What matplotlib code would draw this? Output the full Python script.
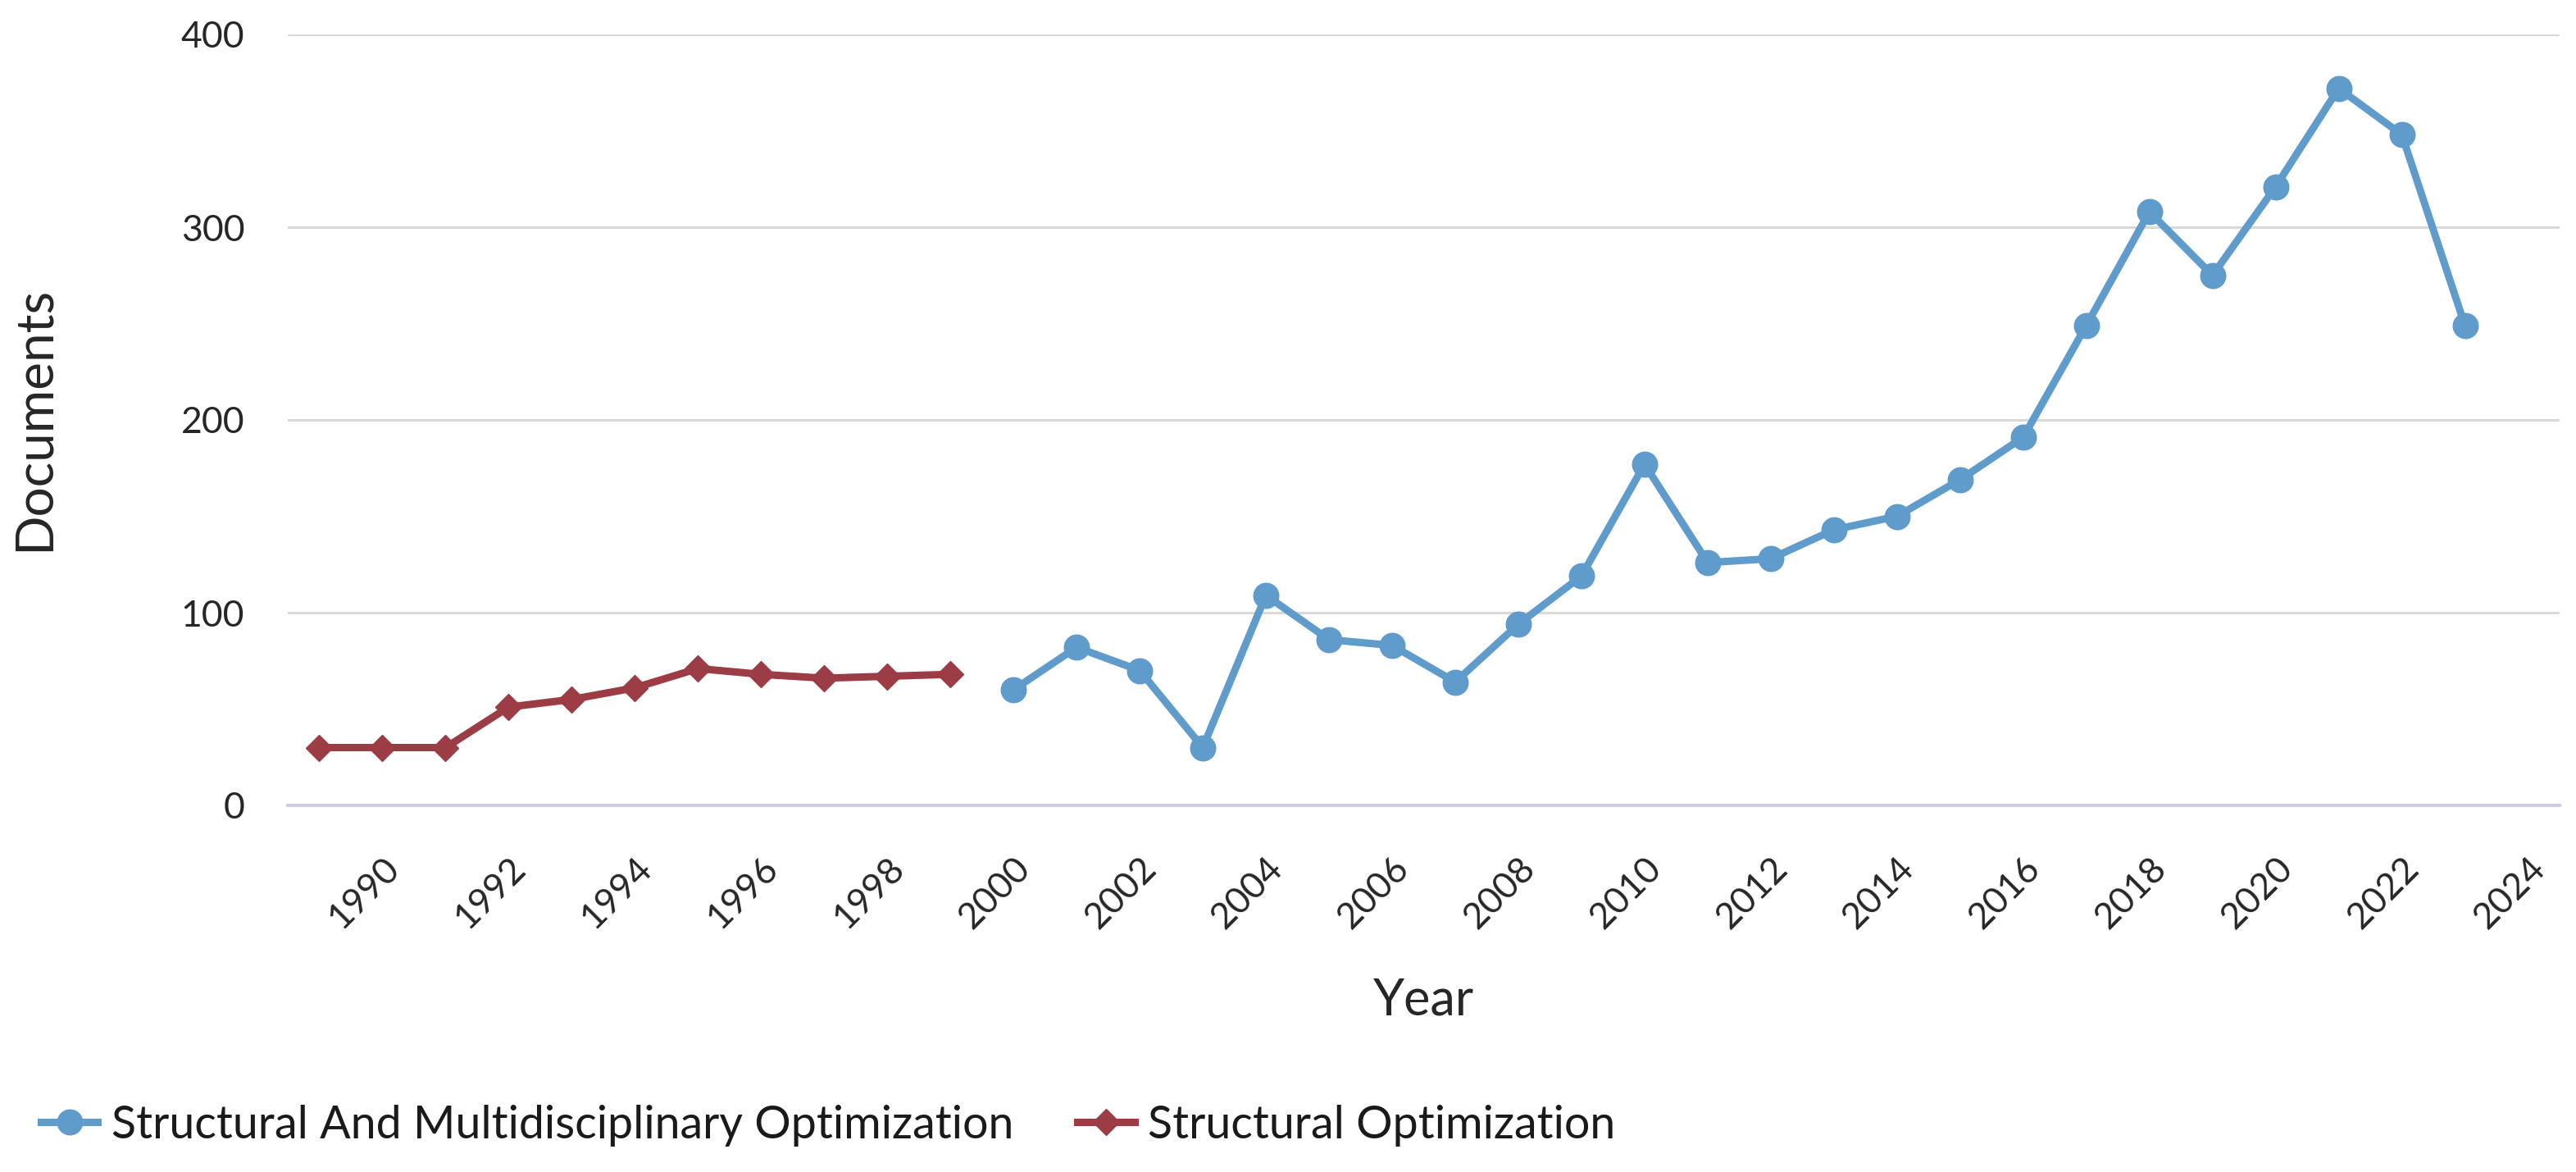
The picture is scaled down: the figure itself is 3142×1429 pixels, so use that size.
import matplotlib
matplotlib.use("Agg")
import matplotlib.pyplot as plt
import numpy as np

# ---- data ----
categories = list(range(1989, 2025))  # category axis 1989..2024
tick_labels = [str(y) for y in range(1990, 2025, 2)]

so_years = list(range(1989, 2000))
so_values = [30, 30, 30, 51, 55, 61, 71, 68, 66, 67, 68]

smo_years = list(range(2000, 2024))
smo_values = [60, 82, 70, 30, 109, 86, 83, 64, 94, 119, 177, 126,
              128, 143, 150, 169, 191, 249, 308, 275, 321, 372, 348, 249]

yticks = [0, 100, 200, 300, 400]

plt.rcParams['font.family'] = ['Lato', 'DejaVu Sans']

W, H = 3142, 1429
fig = plt.figure(figsize=(W / 100, H / 100), dpi=100)
ax = fig.add_axes([351 / W, 1 - 982 / H, (3122 - 351) / W, (982 - 42) / H])

idx = {y: i for i, y in enumerate(categories)}
blue = "#5F9BCB"
red = "#9C3C45"

ax.plot([idx[y] for y in smo_years], smo_values, color=blue, lw=6.5, marker='o',
        markersize=22, label="Structural And Multidisciplinary Optimization", zorder=3,
        solid_joinstyle='round')
ax.plot([idx[y] for y in so_years], so_values, color=red, lw=6.5, marker='D',
        markersize=16, label="Structural Optimization", zorder=3,
        solid_joinstyle='round')

ax.set_xlim(-0.5, len(categories) - 0.5)
ax.set_ylim(0, 400)
ax.set_yticks(yticks)
ax.set_yticklabels([str(v) for v in yticks])
ax.set_xticks([idx[int(t)] for t in tick_labels])
ax.set_xticklabels(tick_labels, rotation=45, ha='right', va='top',
                   rotation_mode='anchor')

for s in ['top', 'right', 'left']:
    ax.spines[s].set_visible(False)
ax.spines['bottom'].set_color('#CDD0E5')
ax.spines['bottom'].set_linewidth(3)
ax.grid(axis='y', color='#D9D9D9', lw=2.2, zorder=0)
ax.set_axisbelow(True)
ax.tick_params(axis='both', length=0, labelsize=32, colors='#262626')
ax.tick_params(axis='y', pad=38)
ax.tick_params(axis='x', pad=40)

fig.text(42 / W, 1 - 510 / H, "Documents", rotation=90, ha='center', va='center',
         fontsize=46, color='#262626')
fig.text(1736 / W, 1 - 1220 / H, "Year", ha='center', va='center',
         fontsize=44, color='#262626')

leg = fig.legend(loc='center left', bbox_to_anchor=(50 / W, 1 - 1372 / H),
                 ncol=2, frameon=False, fontsize=40, handlelength=1.25,
                 handletextpad=0.3, columnspacing=1.4, borderpad=0,
                 borderaxespad=0, labelcolor='#1a1a1a')

fig.savefig("out.png", dpi=100, facecolor='white')
